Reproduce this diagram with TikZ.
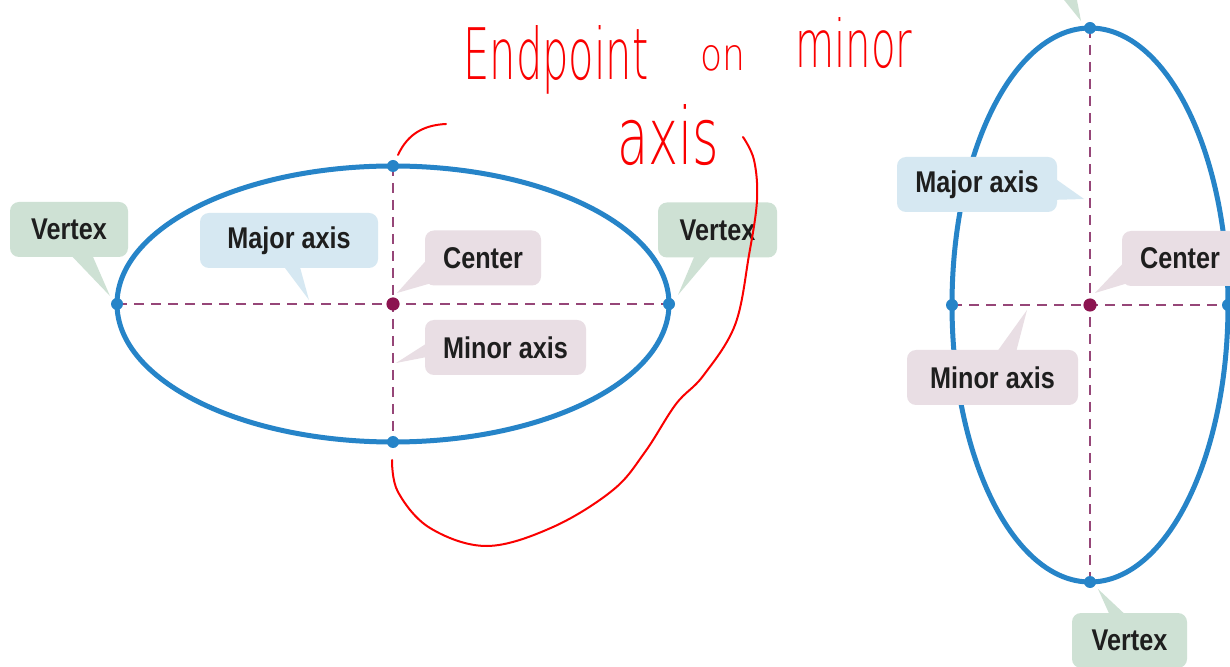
\documentclass[tikz,border=0pt]{standalone}
\usepackage{fontspec}
\newfontfamily\labfont[FakeStretch=0.84]{Liberation Sans Bold}
\newfontfamily\handfont{DejaVu Sans ExtraLight}
\definecolor{ellblue}{RGB}{38,132,200}
\definecolor{axcol}{RGB}{150,70,120}
\definecolor{ctrcol}{RGB}{140,20,80}
\definecolor{boxgreen}{RGB}{206,225,212}
\definecolor{boxblue}{RGB}{214,232,242}
\definecolor{boxpink}{RGB}{233,222,228}
\definecolor{labtext}{RGB}{30,30,30}
\definecolor{handred}{RGB}{250,0,0}
\begin{document}
\begin{tikzpicture}[x=0.5pt,y=-0.5pt,
  lab/.style={inner sep=0pt, minimum height=27.5pt, rounded corners=4.5pt,
    font=\labfont\fontsize{15}{15}\selectfont, text=labtext},
  gbox/.style={lab, fill=boxgreen},
  bbox/.style={lab, fill=boxblue},
  pbox/.style={lab, fill=boxpink},
  ell/.style={draw=ellblue, line width=2.5pt},
  axisline/.style={draw=axcol, line width=1pt, dash pattern=on 5pt off 3.5pt},
  vdot/.style={fill=ellblue},
  cdot/.style={fill=ctrcol},
  hand/.style={draw=handred, line width=1pt, line cap=round, line join=round},
  handtxt/.style={inner sep=0pt, text=handred, anchor=base west}]
\useasboundingbox (0,0) rectangle (1230,667);
\clip (0,0) rectangle (1230,667);
\fill[white] (0,0) rectangle (1230,667);

% ---------- left ellipse ----------
\coordinate (lc) at (393,304);
\coordinate (ll) at (117,304);
\coordinate (lr) at (669,304);
\coordinate (lt) at (393,166);
\coordinate (lb) at (393,442);
\draw[ell] (lc) ellipse [x radius=138pt, y radius=69pt];
\draw[axisline] (ll) -- (lr);
\draw[axisline] (lt) -- (lb);

% ---------- right ellipse ----------
\coordinate (rc) at (1090,305);
\coordinate (rl) at (952,305);
\coordinate (rr) at (1228,305);
\coordinate (rt) at (1090,28);
\coordinate (rb) at (1090,582);
\draw[ell] (rc) ellipse [x radius=69pt, y radius=138.5pt];
\draw[axisline] (rt) -- (rb);
\draw[axisline] (rl) -- (rr);

% ---------- dots ----------
\foreach \p in {ll,lr,lt,lb,rl,rr,rt,rb} \fill[vdot] (\p) circle (3pt);
\fill[cdot] (lc) circle (3.3pt);
\fill[cdot] (rc) circle (3.3pt);

% ---------- callout tails ----------
\fill[boxgreen] (66,250) -- (90,250) -- (110,296) -- cycle;
\fill[boxblue] (279,260) -- (298,260) -- (309,300) -- cycle;
\fill[boxpink] (432,254) -- (442,280) -- (397,293) -- cycle;
\fill[boxpink] (432,340) -- (432,356) -- (396,363) -- cycle;
\fill[boxgreen] (697,250) -- (716,250) -- (678,295) -- cycle;
\fill[boxgreen] (1056,-10) -- (1075,-10) -- (1081,21) -- cycle;
\fill[boxblue] (1050,175) -- (1050,200) -- (1084,199) -- cycle;
\fill[boxpink] (1130,256) -- (1138,280) -- (1095,293) -- cycle;
\fill[boxpink] (994,356) -- (1015,356) -- (1027,310) -- cycle;
\fill[boxgreen] (1112,620) -- (1131,620) -- (1098,589) -- cycle;

% ---------- callout boxes ----------
\node[gbox, minimum width=59pt] (lv1) at (69,229.5) {Vertex};
\node[bbox, minimum width=89pt] (lmaj) at (289,240.5) {Major axis};
\node[pbox, minimum width=58pt] (lcen) at (483,258) {Center};
\node[pbox, minimum width=80.5pt] (lmin) at (505.5,347.5) {Minor axis};
\node[gbox, minimum width=59.5pt] (lv2) at (717.5,230) {Vertex};
\fill[boxgreen, rounded corners=4.5pt] (1026,-60) rectangle (1146,-4);
\node[bbox, minimum width=80pt] (rmaj) at (977,184.5) {Major axis};
\node[pbox, minimum width=58pt] (rcen) at (1180,258.5) {Center};
\node[pbox, minimum width=85.5pt] (rmin) at (992.5,377.5) {Minor axis};
\node[gbox, minimum width=57.5pt] (rv2) at (1129.5,640.5) {Vertex};

% ---------- handwritten annotation ----------
\node[handtxt] (h1) at (463,80) {\resizebox{92.5pt}{27pt}{\handfont Endpoint}};
\node[handtxt] (h2) at (700,71) {\resizebox{22.5pt}{12.5pt}{\handfont on}};
\node[handtxt] (h3) at (795,68) {\resizebox{58.5pt}{25pt}{\handfont minor}};
\node[handtxt] (h4) at (617,165) {\resizebox{51pt}{30pt}{\handfont axis}};
\coordinate (ha) at (398,155);
\coordinate (hb) at (446,124);
\draw[hand] (ha) .. controls (408,133) and (425,125) .. (hb);
\coordinate (hs) at (743,137);
\coordinate (he) at (392,460);
\draw[hand] plot[smooth, tension=0.6] coordinates {(hs) (754,160) (757,200) (749,255) (735,325) (703,376) (676,404) (645,452) (613,490) (553,527) (487,546) (430,528) (398,492) (he)};
\end{tikzpicture}
\end{document}
